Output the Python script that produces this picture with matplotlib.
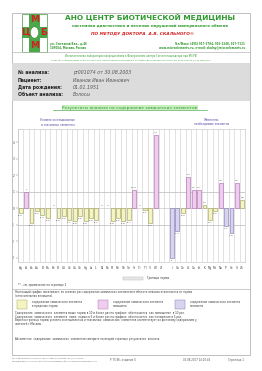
import numpy as np
import matplotlib.pyplot as plt
from matplotlib.patches import Rectangle, Circle

W, H = 262, 371

# Chart data (relative deviation from norm)
toxic_elements = ['Ag', 'Al', 'As', 'Au', 'B', 'Ba', 'Be', 'Bi', 'Cd', 'Ce', 'Ga', 'Ge', 'Hg', 'La',
                  'Li', 'Ni', 'Pb', 'Pt', 'Rb', 'Sb', 'Sn', 'Sr', 'Ti', 'Tl', 'V', 'W', 'Zr']
toxic_values = [-0.3, 1, -0.9, -0.2, -0.4, -0.6, 0, -0.6, -0.5, -0.7, -0.8, -0.5, -0.8, -0.6,
                -0.7, 0, 0, -0.8, -0.6, -0.8, -0.7, 1.1, 0, -0.1, -0.9, 4.4, np.nan]
essential_elements = ['I', 'Ca', 'Co', 'Cr', 'Cu', 'Fe', 'K', 'Mg', 'Mn', 'Na', 'P', 'Se', 'Si', 'Zn']
essential_values = [-3, -1.4, -0.3, 1.9, 1.1, 1.1, 0.2, -0.7, -0.2, 1.5, -1.1, -1.5, 1.5, 0.5]
label_notes = {'Sr': '**'}
y_ticks = [-3, -2, -1, 0, 1, 2, 3, 4]

info_labels = ['№ анализа:', 'Пациент:', 'Дата рождения:', 'Объект анализа:']
info_values = ['pr001074 от 30.08.2003', 'Иванов Иван Иванович', '01.01.1951', 'Волосы']

FILL = {'norm': '#f4f4c2', 'high': '#efcdef', 'low': '#d8d4f0'}
EDGE = {'norm': '#9a9a55', 'high': '#a766a7', 'low': '#7a70b0'}
GREEN = '#2e9a2e'

fig = plt.figure(figsize=(W / 100, H / 100), dpi=100)
fig.patch.set_facecolor('white')


def fx(x):
    return x / W


def fy(y):
    return 1 - y / H


def t(x, y, s, size=2.2, **kw):
    kw.setdefault('va', 'center')
    kw.setdefault('color', '#333333')
    fig.text(fx(x), fy(y), s, fontsize=size, **kw)


def rect(x0, y0, x1, y1, **kw):
    fig.patches.append(Rectangle((fx(x0), fy(y1)), fx(x1) - fx(x0), fy(y0) - fy(y1),
                                 transform=fig.transFigure, figure=fig, **kw))


def hline(y, x0=12, x1=250, color='#b8b8b8', lw=0.5):
    fig.add_artist(plt.Line2D([fx(x0), fx(x1)], [fy(y), fy(y)], color=color, lw=lw))


# page frame and info block
rect(12, 13, 250, 355, facecolor='none', edgecolor='#b5b5b5', lw=0.6)
rect(12, 63, 250, 101, facecolor='#dcdcdc', edgecolor='none')
hline(52)
hline(289)

# logo
rect(22, 14, 47, 52, facecolor='white', edgecolor='#3f9a3f', lw=0.5)
rect(29, 14, 40, 52, facecolor='#4aa84a', edgecolor='none')
rect(22, 27, 47, 38, facecolor='#4aa84a', edgecolor='none')
fig.patches.append(Circle((fx(34.5), fy(32.5)), 4 / W, transform=fig.transFigure,
                          facecolor='white', edgecolor='#2e7a2e', lw=0.3))
for lx, ly, ch in [(34.5, 20, 'М'), (25.5, 32.5, 'Ц'), (43.5, 32.5, 'Б'), (34.5, 45, 'М')]:
    t(lx, ly, ch, size=6.5, color='#d42020', weight='bold', ha='center')

# header
t(150, 17, 'АНО ЦЕНТР БИОТИЧЕСКОЙ МЕДИЦИНЫ', size=5.3, color=GREEN, weight='bold', ha='center')
t(150, 26, 'системная диагностика и лечение нарушений минерального обмена', size=2.8,
  color=GREEN, weight='bold', ha='center')
t(143, 33.5, 'ПО МЕТОДУ ДОКТОРА  А.В. СКАЛЬНОГО®', size=3.1, color='#d42020',
  weight='bold', style='italic', ha='center')
t(50, 44, 'ул. Земляной Вал., д.46', size=1.9, color=GREEN, weight='bold')
t(50, 48, '105064, Москва, Россия', size=1.9, color=GREEN, weight='bold')
t(245, 44, 'Тел/Факс: (495) 917-3784, 916-1348, 917-7131', size=1.9, color=GREEN,
  weight='bold', ha='right')
t(245, 48, 'www.microelements.ru, e-mail: skalny@microelements.ru', size=1.9, color=GREEN,
  weight='bold', ha='right')
t(131, 56, 'Испытательная лаборатория аккредитована в Федеральном центре Госсанэпиднадзора при МЗ РФ',
  size=1.8, color=GREEN, ha='center')
t(131, 60, 'аттестат аккредитации ГСЭН.RU.ЦОА.311, регистрационный номер в Государственном реестре '
  'РОСС RU.0001.513118 от 29 мая 2003', size=1.6, color=GREEN, ha='center')

# patient info
for i, (lab, val) in enumerate(zip(info_labels, info_values)):
    y = 72.5 + i * 7.5
    t(18, y, lab, size=3.3, color='#222222', weight='bold')
    t(73, y, val, size=3.3, color='#555555', style='italic')

# results title
t(130, 107.5, 'Результаты анализа на содержание химических элементов', size=3.1, color=GREEN,
  ha='center', bbox=dict(boxstyle='square,pad=0.15', facecolor='#c9efc0', edgecolor='none'))
hline(110.2, 53, 207, color=GREEN, lw=0.4)

t(58, 120, 'Условно эссенциальные', size=2.0, color='#4a3fa0', ha='center')
t(58, 124.5, 'и токсичные элементы', size=2.0, color='#4a3fa0', ha='center')
t(212, 120, 'Жизненно', size=2.0, color='#4a3fa0', ha='center')
t(212, 124.5, 'необходимые элементы', size=2.0, color='#4a3fa0', ha='center')

# chart
elements = toxic_elements + [''] + essential_elements
values = toxic_values + [np.nan] + essential_values
xs = np.arange(len(elements))

ax = fig.add_axes([fx(18), fy(262), fx(245) - fx(18), fy(129) - fy(262)])
ax.set_xlim(-0.5, len(elements) - 0.5)
ax.set_ylim(-3.27, 4.79)
for b in np.arange(-0.5, len(elements), 1.0):
    ax.axvline(b, color='#cccccc', lw=0.4, zorder=0)
ax.axhline(1, color='#c4c4c4', lw=0.6, zorder=0)
ax.axhline(-1, color='#c4c4c4', lw=0.6, zorder=0)
ax.axhline(0, color='#bdbdbd', lw=0.4, zorder=0)

for x, el, v in zip(xs, elements, values):
    if np.isnan(v):
        continue
    kind = 'high' if v >= 1 else ('low' if v <= -1 else 'norm')
    if v != 0:
        ax.bar(x, v, width=0.72, color=FILL[kind], edgecolor=EDGE[kind], lw=0.4, zorder=2)
    txt = ('%g' % v) + label_notes.get(el, '')
    if v >= 0:
        ax.text(x, v + 0.12, txt, fontsize=1.7, ha='center', va='bottom', color='#444444')
    else:
        ax.text(x, v - 0.12, txt, fontsize=1.7, ha='center', va='top', color='#444444')

ax.set_xticks(xs)
ax.set_xticklabels(elements, fontsize=2.1, color='#444444')
ax.set_yticks(y_ticks)
ax.set_yticklabels([str(v) for v in y_ticks], fontsize=2.1, color='#444444')
ax.tick_params(length=1.2, width=0.3, pad=1.5, colors='#777777', labelcolor='#444444')
ax.tick_params(axis='x', length=0, pad=3)
for s in ax.spines.values():
    s.set_color('#bdbdbd')
    s.set_linewidth(0.4)

# norm legend and note
rect(123, 277, 143, 280, facecolor='#e8e8e8', edgecolor='#b0b0b0', lw=0.3)
t(147, 278.5, 'Границы нормы', size=1.9)
t(18, 285, '** - см. примечание на странице 2', size=1.9)

# explanation block
t(15, 292.5, 'Настоящий график показывает, во сколько раз содержание химических элементов '
  'в объекте анализа отклоняется от нормы', size=1.9)
t(15, 296, '(относительная величина).', size=1.9)
for x0, kind, l1, l2 in [(17, 'norm', 'содержание химического элемента', 'в пределах нормы'),
                         (98, 'high', 'содержание химического элемента', 'повышено'),
                         (175, 'low', 'содержание химического элемента', 'понижено')]:
    rect(x0, 300, x0 + 10, 309, facecolor=FILL[kind], edgecolor=EDGE[kind], lw=0.3)
    t(x0 + 15, 302.5, l1, size=1.9)
    t(x0 + 15, 306, l2, size=1.9)

notes = [
    'Содержание  химического  элемента выше нормы в 10 и более раз на графике  обозначается  как повышение  в 10 раз.',
    'Содержание  химического  элемента  ниже  нормы в 5 и более раз на графике  обозначается  как понижение в 5 раз.',
    'Верхняя граница нормы условно эссенциальных и токсичных  химических  элементов соответствует их фоновому содержанию у',
    'жителей г.Москвы.',
]
for i, line in enumerate(notes):
    t(15, 313 + i * 3.6, line, size=1.9)
t(15, 339, 'Абсолютное  содержание  химических  элементов смотрите на второй странице результатов  анализа.',
  size=1.9)

# footer
t(12, 358.5, 'Центр биотической медицины: ул. Земляной Вал, д.46, Москва, тел. (495) 917-3784', size=1.2,
  color='#666666')
t(12, 361.5, 'Материалы данного отчета не могут быть воспроизведены без письменного разрешения центра',
  size=1.2, color='#666666')
t(110, 360, 'Р 75.96, издание 5', size=1.9, color='#555555')
t(183, 360, '06.08.2007 14:10:44', size=1.9, color='#555555')
t(228, 360, 'Страница 1', size=1.9, color='#555555')

fig.savefig('out.png', dpi=100)
